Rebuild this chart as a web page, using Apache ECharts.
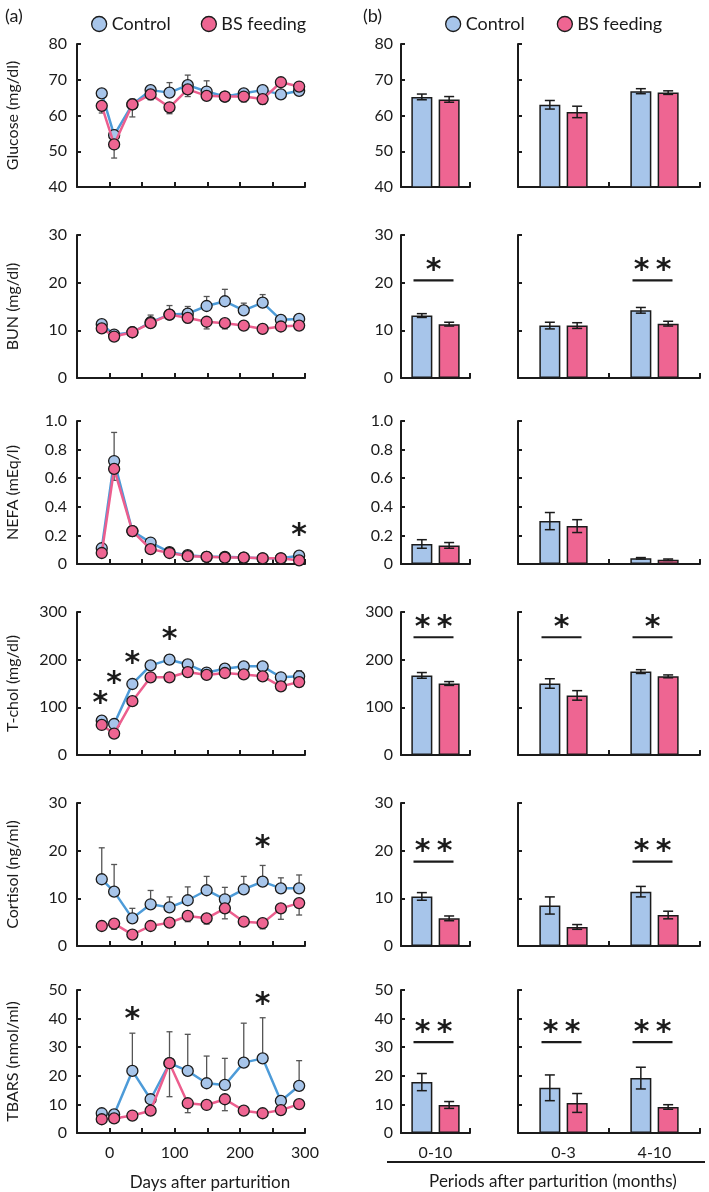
<!DOCTYPE html>
<html>
<head>
<meta charset="utf-8">
<script src="https://cdn.jsdelivr.net/npm/echarts@6/dist/echarts.min.js"></script>
<style>
  html, body { margin: 0; padding: 0; background: #fff; }
  #main { width: 709px; height: 1192px; }
</style>
</head>
<body>
<div id="main"></div>
<script>
// sampling days (relative to parturition)
var days = [-12, 7, 35, 63, 92, 120, 149, 177, 206, 235, 263, 291];
var periods = ['0-10', '0-3', '4-10'];

// (a) time course: mean and SE
var glucoseCtrl = [66.2, 54.5, 63.1, 67.1, 66.4, 68.5, 66.7, 65.3, 66.2, 67.1, 65.9, 66.9];
var glucoseCtrlErr = [1.0, 1.5, 1.5, 1.2, 2.8, 2.8, 3.0, 1.0, 1.0, 1.2, 0.8, 0.8];
var glucoseBS = [62.7, 51.9, 63.1, 65.9, 62.3, 67.3, 65.5, 65.3, 65.3, 64.6, 69.3, 68.1];
var glucoseBSErr = [2.0, 3.8, 3.5, 1.5, 1.8, 2.0, 1.0, 1.2, 1.5, 1.5, 0.8, 0.8];

var bunCtrl = [11.3, 9.1, 9.6, 11.7, 13.3, 13.5, 15.1, 16.1, 14.2, 15.8, 12.2, 12.4];
var bunCtrlErr = [0.5, 0.5, 0.5, 1.5, 1.9, 1.5, 2.0, 2.5, 1.5, 1.7, 0.5, 0.5];
var bunBS = [10.4, 8.7, 9.6, 11.5, 13.3, 12.6, 11.8, 11.5, 11.0, 10.3, 10.8, 11.0];
var bunBSErr = [0.5, 0.5, 0.5, 0.8, 1.0, 1.0, 1.5, 1.2, 0.8, 0.5, 0.6, 0.6];

var nefaCtrl = [0.11, 0.72, 0.23, 0.15, 0.083, 0.062, 0.05, 0.05, 0.045, 0.04, 0.04, 0.058];
var nefaCtrlErr = [0.02, 0.2, 0.03, 0.02, 0.01, 0.01, 0.01, 0.01, 0.01, 0.01, 0.01, 0.01];
var nefaBS = [0.077, 0.665, 0.23, 0.104, 0.077, 0.055, 0.05, 0.045, 0.045, 0.04, 0.04, 0.025];
var nefaBSErr = [0.02, 0.08, 0.03, 0.02, 0.01, 0.01, 0.01, 0.01, 0.01, 0.01, 0.01, 0.01];
var nefaStars = [[291, 0.23]];

var tcholCtrl = [72, 65, 149, 188, 200, 190, 173, 181, 186, 186, 163, 165];
var tcholCtrlErr = [5, 5, 6, 6, 10, 6, 5, 6, 6, 6, 6, 12];
var tcholBS = [63, 45, 113, 163, 163, 174, 168, 172, 169, 165, 144, 153];
var tcholBSErr = [5, 5, 5, 5, 5, 5, 5, 5, 5, 5, 6, 6];
var tcholStars = [[-14, 118], [7, 158], [35, 200], [92, 252]];

var cortisolCtrl = [14.0, 11.4, 5.8, 8.75, 8.1, 9.6, 11.7, 9.8, 11.9, 13.5, 12.1, 12.1];
var cortisolCtrlErr = [6.6, 5.7, 2.1, 2.9, 2.2, 2.8, 2.9, 2.5, 2.7, 3.4, 2.2, 2.8];
var cortisolBS = [4.2, 4.7, 2.4, 4.2, 4.9, 6.3, 5.8, 7.9, 5.1, 4.8, 7.9, 9.0];
var cortisolBSErr = [0.5, 1.2, 0.5, 0.6, 0.8, 1.2, 1.2, 2.2, 0.8, 1.2, 2.3, 2.5];
var cortisolStars = [[235, 21.6]];

var tbarsCtrl = [6.9, 6.5, 21.7, 11.8, 24.4, 21.7, 17.4, 16.8, 24.6, 26.1, 11.2, 16.5];
var tbarsCtrlErr = [1, 1, 13.2, 1, 11, 12.8, 9.5, 9.3, 13.8, 14.2, 1, 8.8];
var tbarsBS = [4.8, 5.1, 6.1, 7.8, 24.4, 10.4, 9.8, 11.8, 7.8, 6.9, 8.0, 10.1];
var tbarsBSErr = [0.8, 0.8, 0.8, 0.8, 11.7, 3.3, 1, 4, 0.8, 0.8, 0.8, 0.8];
var tbarsStars = [[35, 41.3], [235, 46.5]];

// (b) period means: [0-10, 0-3, 4-10]
var glucoseBarCtrl = [65.2, 63.0, 66.8], glucoseBarCtrlErr = [0.8, 1.2, 0.7];
var glucoseBarBS = [64.5, 61.0, 66.4], glucoseBarBSErr = [0.8, 1.6, 0.5];
var glucoseSig = [];

var bunBarCtrl = [13.1, 11.0, 14.2], bunBarCtrlErr = [0.4, 0.7, 0.6];
var bunBarBS = [11.3, 11.0, 11.4], bunBarBSErr = [0.4, 0.6, 0.5];
var bunSig = [[0, 20.5, 1], [2, 20.5, 2]]; // [period, line level, number of stars]

var nefaBarCtrl = [0.14, 0.30, 0.04], nefaBarCtrlErr = [0.03, 0.06, 0.005];
var nefaBarBS = [0.13, 0.265, 0.03], nefaBarBSErr = [0.02, 0.045, 0.005];
var nefaSig = [];

var tcholBarCtrl = [167, 150, 175], tcholBarCtrlErr = [6, 10, 4];
var tcholBarBS = [150, 125, 165], tcholBarBSErr = [4, 10, 3];
var tcholSig = [[0, 247, 2], [1, 247, 1], [2, 247, 1]];

var cortisolBarCtrl = [10.4, 8.5, 11.4], cortisolBarCtrlErr = [0.8, 1.8, 1.1];
var cortisolBarBS = [5.8, 4.0, 6.5], cortisolBarBSErr = [0.5, 0.5, 0.8];
var cortisolSig = [[0, 17.7, 2], [2, 17.7, 2]];

var tbarsBarCtrl = [17.8, 15.8, 19.2], tbarsBarCtrlErr = [3, 4.5, 3.8];
var tbarsBarBS = [9.8, 10.5, 9.1], tbarsBarBSErr = [1.2, 3.3, 0.8];
var tbarsSig = [[0, 31.8, 2], [1, 31.8, 2], [2, 31.8, 2]];

// ---- styling / layout ----
var FONT = 'Lato';
var INK = '#1b1b1b';
var BLUE_FILL = '#a7c5ea', PINK_FILL = '#ee6592';
var BLUE_LINE = '#4d9bd8', PINK_LINE = '#ec5e8e';
var ERR_GRAY = '#555';
var rowTop = [44, 235, 421, 612, 803, 990];
var rowH = 143;
var BAR_W = 21, BAR_OFF = 13.65;

var rows = [
  { name: 'Glucose (mg/dl)', min: 40, max: 80, step: 10,
    ctrl: glucoseCtrl, ctrlErr: glucoseCtrlErr, bs: glucoseBS, bsErr: glucoseBSErr, stars: [],
    barCtrl: glucoseBarCtrl, barCtrlErr: glucoseBarCtrlErr, barBS: glucoseBarBS, barBSErr: glucoseBarBSErr, sig: glucoseSig },
  { name: 'BUN (mg/dl)', min: 0, max: 30, step: 10,
    ctrl: bunCtrl, ctrlErr: bunCtrlErr, bs: bunBS, bsErr: bunBSErr, stars: [],
    barCtrl: bunBarCtrl, barCtrlErr: bunBarCtrlErr, barBS: bunBarBS, barBSErr: bunBarBSErr, sig: bunSig },
  { name: 'NEFA (mEq/l)', min: 0, max: 1, step: 0.2,
    ctrl: nefaCtrl, ctrlErr: nefaCtrlErr, bs: nefaBS, bsErr: nefaBSErr, stars: nefaStars,
    barCtrl: nefaBarCtrl, barCtrlErr: nefaBarCtrlErr, barBS: nefaBarBS, barBSErr: nefaBarBSErr, sig: nefaSig },
  { name: 'T-chol (mg/dl)', min: 0, max: 300, step: 100,
    ctrl: tcholCtrl, ctrlErr: tcholCtrlErr, bs: tcholBS, bsErr: tcholBSErr, stars: tcholStars,
    barCtrl: tcholBarCtrl, barCtrlErr: tcholBarCtrlErr, barBS: tcholBarBS, barBSErr: tcholBarBSErr, sig: tcholSig },
  { name: 'Cortisol (ng/ml)', min: 0, max: 30, step: 10,
    ctrl: cortisolCtrl, ctrlErr: cortisolCtrlErr, bs: cortisolBS, bsErr: cortisolBSErr, stars: cortisolStars,
    barCtrl: cortisolBarCtrl, barCtrlErr: cortisolBarCtrlErr, barBS: cortisolBarBS, barBSErr: cortisolBarBSErr, sig: cortisolSig },
  { name: 'TBARS (nmol/ml)', min: 0, max: 50, step: 10,
    ctrl: tbarsCtrl, ctrlErr: tbarsCtrlErr, bs: tbarsBS, bsErr: tbarsBSErr, stars: tbarsStars,
    barCtrl: tbarsBarCtrl, barCtrlErr: tbarsBarCtrlErr, barBS: tbarsBarBS, barBSErr: tbarsBarBSErr, sig: tbarsSig }
];

var axisLine = { show: true, onZero: false, lineStyle: { color: INK, width: 2 } };
var tickStyle = { color: INK, width: 2 };
var labelText = { fontSize: 16, color: INK, fontFamily: FONT };

// vertical error bar with a small cap at the far end
function lineErr(params, api) {
  var x = api.value(0), y = api.value(1), e = api.value(2);
  var p1 = api.coord([x, y]);
  var p2 = api.coord([x, y + e]);
  var st = { stroke: ERR_GRAY, lineWidth: 1.3 };
  return { type: 'group', children: [
    { type: 'line', shape: { x1: p1[0], y1: p1[1], x2: p2[0], y2: p2[1] }, style: st },
    { type: 'line', shape: { x1: p2[0] - 3, y1: p2[1], x2: p2[0] + 3, y2: p2[1] }, style: st }
  ] };
}

function barErr(offset) {
  return function (params, api) {
    var c = api.value(0), v = api.value(1), e = api.value(2);
    var top = api.coord([c, v + e]);
    var bot = api.coord([c, v - e]);
    var x = top[0] + offset;
    var st = { stroke: INK, lineWidth: 1.5 };
    return { type: 'group', children: [
      { type: 'line', shape: { x1: x, y1: top[1], x2: x, y2: bot[1] }, style: st },
      { type: 'line', shape: { x1: x - 5, y1: top[1], x2: x + 5, y2: top[1] }, style: st },
      { type: 'line', shape: { x1: x - 5, y1: bot[1], x2: x + 5, y2: bot[1] }, style: st }
    ] };
  };
}

function starText(x, y) {
  return { type: 'text', x: x, y: y + 5,
    style: { text: '*', fill: INK, font: 'bold 30px "DejaVu Sans"', textAlign: 'center', textVerticalAlign: 'middle' } };
}

function lineStar(params, api) {
  var p = api.coord([api.value(0), api.value(1)]);
  return starText(p[0], p[1]);
}

function sigMark(params, api) {
  var p = api.coord([api.value(0), api.value(1)]);
  var n = api.value(2);
  var kids = [{ type: 'line', shape: { x1: p[0] - 22, y1: p[1], x2: p[0] + 18, y2: p[1] },
    style: { stroke: INK, lineWidth: 2.2 } }];
  if (n === 1) kids.push(starText(p[0] - 2, p[1] - 14));
  else { kids.push(starText(p[0] - 13, p[1] - 14)); kids.push(starText(p[0] + 9, p[1] - 14)); }
  return { type: 'group', children: kids };
}

var grid = [], xAxis = [], yAxis = [], series = [];

rows.forEach(function (r, ri) {
  var last = ri === rows.length - 1;
  var top = rowTop[ri];
  var gi = grid.length;
  var yLabelFmt = function (v) { return r.step < 1 ? (v === 0 ? '0' : v.toFixed(1)) : String(v); };

  // --- (a) line panel ---
  grid.push({ left: 77, top: top, width: 228, height: rowH });
  xAxis.push({ type: 'value', gridIndex: gi, min: -50, max: 300, interval: 50,
    axisLine: axisLine, axisTick: { show: true, inside: true, length: 5, lineStyle: tickStyle },
    axisLabel: Object.assign({ show: last, margin: 12, showMinLabel: false,
      formatter: function (v) { return v >= 0 && v % 100 === 0 ? String(v) : ''; } }, labelText),
    splitLine: { show: false } });
  yAxis.push({ type: 'value', gridIndex: gi, min: r.min, max: r.max, interval: r.step,
    name: r.name, nameLocation: 'middle', nameGap: 56,
    nameTextStyle: { fontSize: 16, color: INK, fontFamily: FONT },
    axisLine: axisLine, axisTick: { show: true, inside: true, length: 4, lineStyle: tickStyle },
    axisLabel: Object.assign({ margin: 10, formatter: yLabelFmt }, labelText),
    splitLine: { show: false } });

  series.push({ type: 'custom', xAxisIndex: gi, yAxisIndex: gi, z: 1, renderItem: lineErr,
    data: days.map(function (d, i) { return [d, r.ctrl[i], r.ctrlErr[i]]; }) });
  series.push({ type: 'custom', xAxisIndex: gi, yAxisIndex: gi, z: 1, renderItem: lineErr,
    data: days.map(function (d, i) { return [d, r.bs[i], -r.bsErr[i]]; }) });
  series.push({ type: 'line', name: 'Control', xAxisIndex: gi, yAxisIndex: gi, z: 3,
    data: days.map(function (d, i) { return [d, r.ctrl[i]]; }),
    symbol: 'circle', symbolSize: 11,
    lineStyle: { color: BLUE_LINE, width: 2.5 },
    itemStyle: { color: BLUE_FILL, borderColor: INK, borderWidth: 1.3 } });
  series.push({ type: 'line', name: 'BS feeding', xAxisIndex: gi, yAxisIndex: gi, z: 4,
    data: days.map(function (d, i) { return [d, r.bs[i]]; }),
    symbol: 'circle', symbolSize: 11,
    lineStyle: { color: PINK_LINE, width: 2.5 },
    itemStyle: { color: PINK_FILL, borderColor: INK, borderWidth: 1.3 } });
  if (r.stars.length) {
    series.push({ type: 'custom', xAxisIndex: gi, yAxisIndex: gi, z: 5, renderItem: lineStar,
      clip: false, data: r.stars });
  }

  // --- (b) bar panels: [0-10] and [0-3, 4-10] ---
  [[0], [1, 2]].forEach(function (idx, k) {
    var g = gi + 1 + k;
    grid.push({ left: k === 0 ? 401 : 518, top: top, width: k === 0 ? 69 : 182, height: rowH });
    xAxis.push({ type: 'category', gridIndex: g, data: idx.map(function (i) { return periods[i]; }),
      axisLine: axisLine,
      axisTick: { show: true, inside: true, length: 5, alignWithLabel: false, lineStyle: tickStyle },
      axisLabel: Object.assign({ show: last, margin: 12 }, labelText) });
    yAxis.push({ type: 'value', gridIndex: g, min: r.min, max: r.max, interval: r.step,
      axisLine: axisLine, axisTick: { show: true, inside: true, length: 4, lineStyle: tickStyle },
      axisLabel: Object.assign({ show: k === 0, margin: 8, formatter: yLabelFmt }, labelText),
      splitLine: { show: false } });

    series.push({ type: 'bar', name: 'Control', xAxisIndex: g, yAxisIndex: g,
      barWidth: BAR_W, barGap: '30%',
      data: idx.map(function (i) { return r.barCtrl[i]; }),
      itemStyle: { color: BLUE_FILL, borderColor: INK, borderWidth: 1.5 } });
    series.push({ type: 'bar', name: 'BS feeding', xAxisIndex: g, yAxisIndex: g,
      barWidth: BAR_W, barGap: '30%',
      data: idx.map(function (i) { return r.barBS[i]; }),
      itemStyle: { color: PINK_FILL, borderColor: INK, borderWidth: 1.5 } });
    series.push({ type: 'custom', xAxisIndex: g, yAxisIndex: g, z: 5, renderItem: barErr(-BAR_OFF),
      data: idx.map(function (i, j) { return [j, r.barCtrl[i], r.barCtrlErr[i]]; }) });
    series.push({ type: 'custom', xAxisIndex: g, yAxisIndex: g, z: 5, renderItem: barErr(BAR_OFF),
      data: idx.map(function (i, j) { return [j, r.barBS[i], r.barBSErr[i]]; }) });

    var sig = r.sig.filter(function (s) { return idx.indexOf(s[0]) >= 0; })
      .map(function (s) { return [idx.indexOf(s[0]), s[1], s[2]]; });
    if (sig.length) {
      series.push({ type: 'custom', xAxisIndex: g, yAxisIndex: g, z: 5, clip: false,
        renderItem: sigMark, data: sig });
    }
  });
});

var legendData = [
  { name: 'Control', itemStyle: { color: BLUE_FILL, borderColor: INK, borderWidth: 1.3 } },
  { name: 'BS feeding', itemStyle: { color: PINK_FILL, borderColor: INK, borderWidth: 1.3 } }
];
function legendAt(left, gap) {
  return { left: left, top: 10, icon: 'circle', itemWidth: 15, itemHeight: 15, itemGap: gap,
    textStyle: { fontSize: 18, color: INK, fontFamily: FONT }, data: legendData, selectedMode: false };
}

var titleStyle = { fontSize: 18, fontWeight: 'normal', color: INK, fontFamily: FONT };
var option = {
  animation: false,
  backgroundColor: '#fff',
  title: [
    { text: '(a)', left: 0, top: 2, textStyle: titleStyle },
    { text: '(b)', left: 358, top: 2, textStyle: titleStyle },
    { text: 'Days after parturition', left: 205, top: 1169, textAlign: 'center',
      textStyle: { fontSize: 17, fontWeight: 'normal', color: INK, fontFamily: FONT } },
    { text: 'Periods after parturition (months)', left: 548, top: 1168, textAlign: 'center',
      textStyle: { fontSize: 17, fontWeight: 'normal', color: INK, fontFamily: FONT } }
  ],
  legend: [legendAt(86, 30), legendAt(440, 32)],
  graphic: [
    { type: 'line', shape: { x1: 387, y1: 1162, x2: 705, y2: 1162 }, style: { stroke: INK, lineWidth: 2 } }
  ],
  grid: grid,
  xAxis: xAxis,
  yAxis: yAxis,
  series: series
};

var myChart = echarts.init(document.getElementById('main'));
myChart.setOption(option);
</script>
</body>
</html>
